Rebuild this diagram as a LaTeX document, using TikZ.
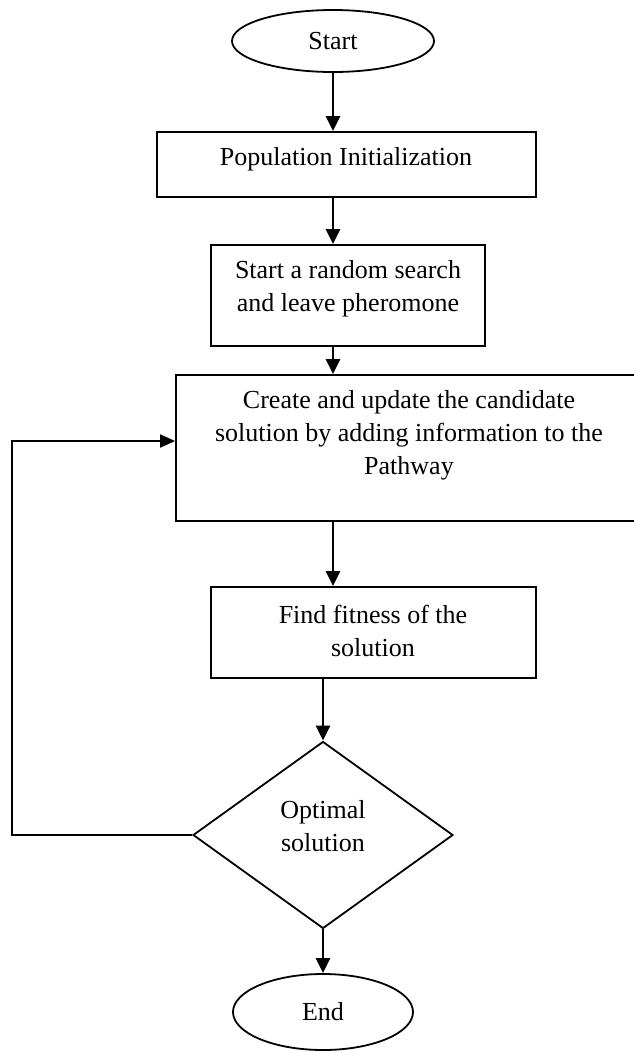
\documentclass[tikz,border=0pt]{standalone}
\usepackage{fontspec}
\setmainfont{Liberation Serif}
\usetikzlibrary{shapes.geometric,arrows.meta}
\begin{document}
\begin{tikzpicture}[x=1pt,y=-1pt,
  every node/.style={font=\fontsize{26}{33}\selectfont, inner sep=0pt},
  frame/.style={draw, line width=1.8pt, rectangle},
  terminal/.style={draw, line width=1.8pt, ellipse},
  decision/.style={draw, line width=1.8pt, diamond},
  caption/.style={align=center},
  flow/.style={line width=2.4pt, -{Triangle[length=15pt,width=14pt]}},
  loop/.style={line width=2pt, -{Triangle[length=15pt,width=13pt]}}
]
\clip (0,0) rectangle (634,1053);

% terminals
\node[terminal, minimum width=202pt, minimum height=62pt] (st) at (333,41) {Start};
\node[terminal, minimum width=180pt, minimum height=76pt] (en) at (323,1012) {End};

% process boxes
\node[frame, minimum width=379pt, minimum height=65pt] (b1) at (346.5,164.5) {};
\node[caption] (t1) at (346,159) {Population Initialization};

\node[frame, minimum width=274pt, minimum height=101pt] (b2) at (348,295.5) {};
\node[caption] (t2) at (348,289) {Start a random search\\and leave pheromone};

\node[frame, minimum width=466pt, minimum height=146pt] (b3) at (409,448) {};
\node[caption] (t3) at (409,435) {Create and update the candidate\\solution by adding information to the\\Pathway};

\node[frame, minimum width=325pt, minimum height=91pt] (b4) at (373.5,632.5) {};
\node[caption] (t4) at (373,631) {Find fitness of the\\solution};

% decision
\node[decision, minimum width=260pt, minimum height=187pt] (dec) at (323,835) {};
\node[caption] (t5) at (323,826) {Optimal\\solution};

% main flow
\draw[flow] (st.south) -- (st.south |- b1.north);
\draw[flow] (b1.south -| st.south) -- (b2.north -| st.south);
\draw[flow] (b2.south -| st.south) -- (b3.north -| st.south);
\draw[flow] (b3.south -| st.south) -- (b4.north -| st.south);
\draw[flow] (b4.south -| dec.north) -- (dec.north);
\draw[flow] (dec.south) -- (en.north);

% feedback loop
\coordinate (turn) at (12,441);
\draw[loop] (dec.west) -| (turn) -- (turn -| b3.west);
\end{tikzpicture}
\end{document}
